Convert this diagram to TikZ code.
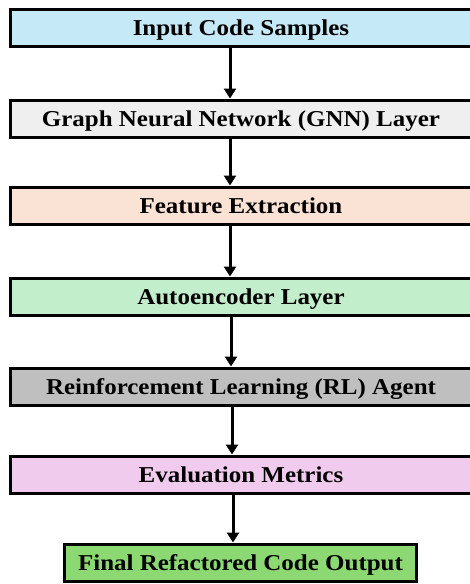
\documentclass[tikz,border=0pt]{standalone}
\usepackage{fontspec}
\setmainfont{Liberation Serif}[FakeStretch=1.1]
\usetikzlibrary{arrows.meta}

\definecolor{cInput}{HTML}{C6E9F8}
\definecolor{cGnn}{HTML}{EFEFEF}
\definecolor{cFeat}{HTML}{FAE2D5}
\definecolor{cAuto}{HTML}{C2EECB}
\definecolor{cRl}{HTML}{BFBFBF}
\definecolor{cEval}{HTML}{F1CBEE}
\definecolor{cOut}{HTML}{8CD973}

\tikzset{
  stage/.style={draw=black, line width=3pt, minimum height=37pt, inner sep=0pt,
    text height=15pt, text depth=0pt,
    font=\fontsize{22.7pt}{26pt}\selectfont\bfseries, text=black},
  widestage/.style={stage, minimum width=461pt},
  flow/.style={line width=3pt, -{Triangle[length=10pt,width=12pt]}},
}

\begin{document}
\begin{tikzpicture}[x=1pt, y=-1pt]
  \useasboundingbox (0,0) rectangle (470,584);

  % processing stages, top to bottom
  \node[widestage, fill=cInput] (input) at (241,27.5) {Input Code Samples};
  \node[widestage, fill=cGnn]   (gnn)   at (241,118.5) {Graph Neural Network (GNN) Layer};
  \node[widestage, fill=cFeat]  (feat)  at (241,205.5) {Feature Extraction};
  \node[widestage, fill=cAuto]  (auto)  at (241,296.5) {Autoencoder Layer};
  \node[widestage, fill=cRl]    (rl)    at (241,386.5) {Reinforcement Learning (RL) Agent};
  \node[widestage, fill=cEval]  (eval)  at (241,474.5) {Evaluation Metrics};
  \node[stage, fill=cOut, minimum width=352pt] (out) at (240.5,562.5) {Final Refactored Code Output};

  % connectors between consecutive stages
  \draw[flow] ([xshift=-11pt]input.south) -- ([xshift=-11pt]gnn.north);
  \draw[flow] ([xshift=-11pt]gnn.south)   -- ([xshift=-11pt]feat.north);
  \draw[flow] ([xshift=-11pt]feat.south)  -- ([xshift=-11pt]auto.north);
  \draw[flow] ([xshift=-10pt]auto.south)  -- ([xshift=-10pt]rl.north);
  \draw[flow] ([xshift=-9pt]rl.south)     -- ([xshift=-9pt]eval.north);
  \draw[flow] ([xshift=-8pt]eval.south)   -- ([xshift=-7.5pt]out.north);
\end{tikzpicture}
\end{document}
